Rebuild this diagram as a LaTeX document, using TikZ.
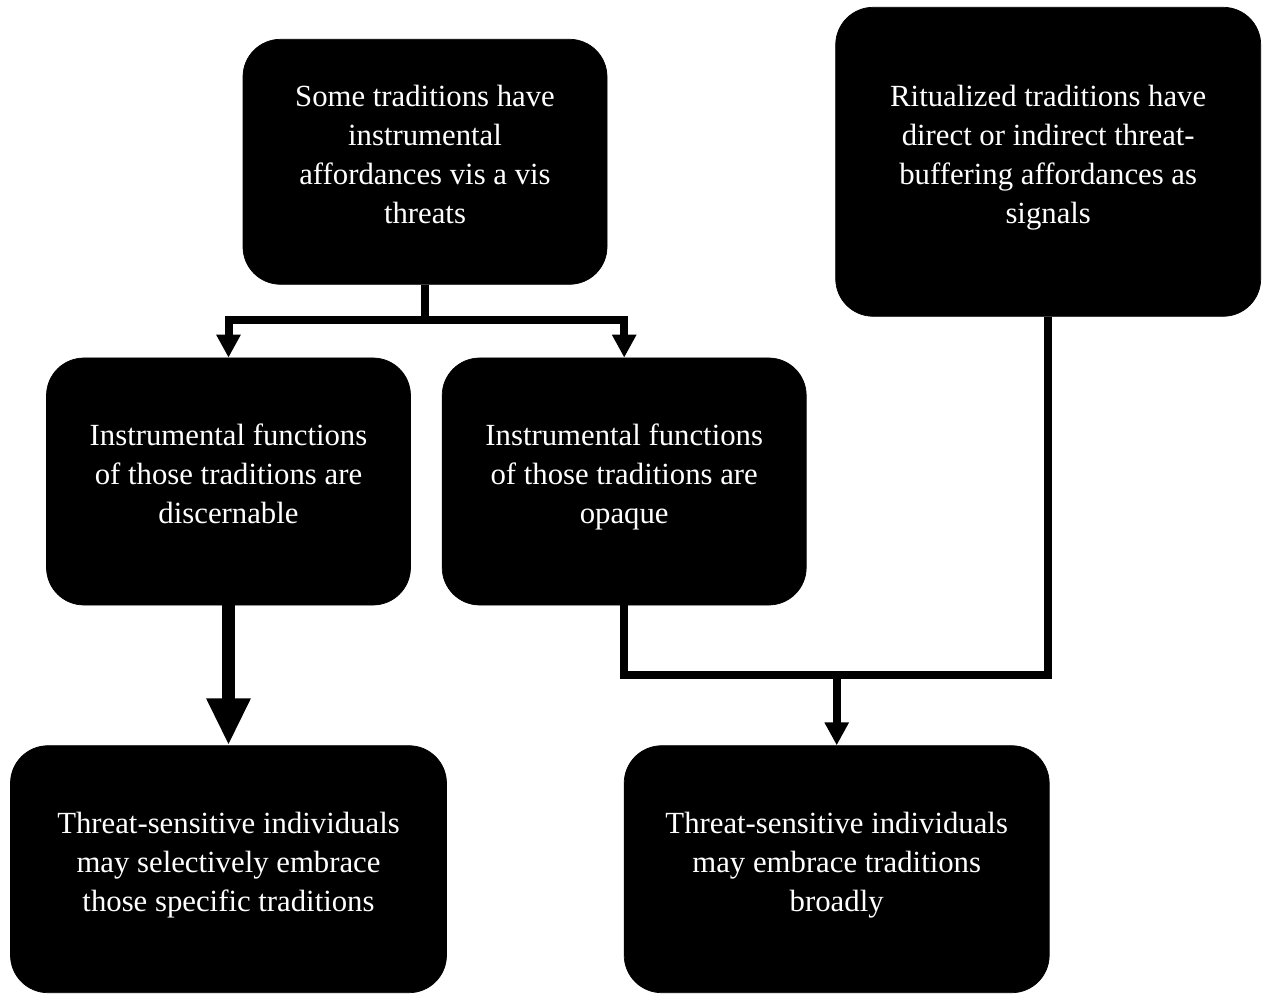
\documentclass[tikz,border=0pt]{standalone}
\usepackage{fontspec}
\setmainfont{Liberation Serif}
\usepackage{tikz}
\usetikzlibrary{arrows.meta,positioning,shapes}
\tikzset{
    %Define standard arrow tip
    >={Triangle[width=0.46cm,length=0.46cm]},
    %Define style for boxes
    claim/.style={
   	rectangle,
   	rounded corners=0.75cm,
   	draw=black, fill=black,
   	text=white,
   	minimum width=7.28cm,
   	minimum height=4.94cm,
   	text depth=0.3cm,
   	font=\fontsize{17.5}{22.2}\selectfont,
   	align=center
   },
   claimwide/.style={
   	claim,
   	minimum width=8.5cm
   },
    % Define arrow style
    pil/.style={
           ->,
           line width=0.16cm},
    bigpil/.style={
           -{Triangle[width=0.82cm,length=0.94cm]},
           line width=0.26cm},
    line/.style={
           line width=0.16cm}
}
\begin{document}
\begin{tikzpicture}[node distance=1cm]
		\useasboundingbox (-4.57,-10.23) rectangle (20.67,9.63);
		\node[claim](3){Instrumental functions\\of those traditions are\\discernable};
		\node[claim, right=0.62cm of 3](4){Instrumental functions\\of those traditions are\\opaque};
		\node[claim, above=1.46cm of 3, xshift=3.93cm, minimum height=4.9cm](1){Some traditions have\\instrumental\\affordances vis a vis\\threats};
		\node[claimwide, right=4.56cm of 1, minimum height=6.18cm](2){Ritualized traditions have\\direct or indirect threat-\\buffering affordances as\\signals};
		\node[claim, below=2.8cm of 3, minimum width=8.72cm](5){Threat-sensitive individuals\\may selectively embrace\\those specific traditions};
		\node[claimwide, right=3.54cm of 5](6){Threat-sensitive individuals\\may embrace traditions\\broadly};
		\coordinate[below=0.7cm of 1](s);
		\coordinate[below=1.4cm of 4](j);
		\draw[pil] (1.south) -- (s) -| (3.north);
		\draw[pil] (1.south) -- (s) -| (4.north);
		\draw[bigpil] (3) -- (5);
		\draw[pil] (4.south) -- (j) -| (6.north);
		\draw[line] (2.south) |- (j);
\end{tikzpicture}
\end{document}
